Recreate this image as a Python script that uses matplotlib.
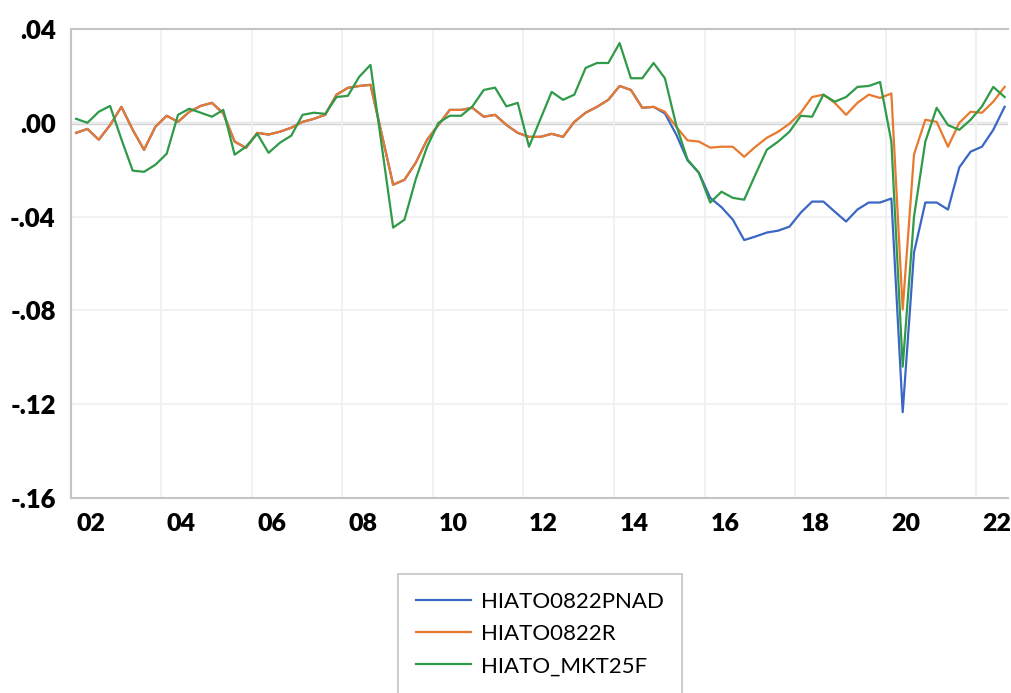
import numpy as np
import matplotlib
matplotlib.use("Agg")
import matplotlib.pyplot as plt

# quarterly series 2002Q1 .. 2022Q3 (83 obs)
hiato_pnad = [
    -0.0043, -0.0026, -0.0072, -0.0010, 0.0068, -0.0030, -0.0115, -0.0017,
    0.0030, 0.0004, 0.0047, 0.0072, 0.0085, 0.0040, -0.0080, -0.0107,
    -0.0043, -0.0050, -0.0038, -0.0021, 0.0004, 0.0017, 0.0034, 0.0120,
    0.0149, 0.0157, 0.0162, -0.0050, -0.0264, -0.0243, -0.0170, -0.0072,
    -0.0009, 0.0055, 0.0055, 0.0064, 0.0026, 0.0034, -0.0009, -0.0043,
    -0.0060, -0.0060, -0.0047, -0.0060, 0.0004, 0.0043, 0.0068, 0.0098,
    0.0157, 0.0140, 0.0064, 0.0068, 0.0040, -0.0050, -0.0160, -0.0213,
    -0.0320, -0.0360, -0.0413, -0.0500, -0.0485, -0.0468, -0.0460, -0.0443,
    -0.0383, -0.0336, -0.0336, -0.0379, -0.0421, -0.0370, -0.0340, -0.0340,
    -0.0323, -0.1234, -0.0553, -0.0340, -0.0340, -0.0370, -0.0190, -0.0123,
    -0.0102, -0.0030, 0.0068,
]
hiato_r = [
    -0.0043, -0.0026, -0.0072, -0.0010, 0.0068, -0.0030, -0.0115, -0.0017,
    0.0030, 0.0004, 0.0047, 0.0072, 0.0085, 0.0040, -0.0080, -0.0107,
    -0.0043, -0.0050, -0.0038, -0.0021, 0.0004, 0.0017, 0.0034, 0.0120,
    0.0149, 0.0157, 0.0162, -0.0050, -0.0264, -0.0243, -0.0170, -0.0072,
    -0.0009, 0.0055, 0.0055, 0.0064, 0.0026, 0.0034, -0.0009, -0.0043,
    -0.0060, -0.0060, -0.0047, -0.0060, 0.0004, 0.0043, 0.0068, 0.0098,
    0.0157, 0.0140, 0.0064, 0.0068, 0.0047, -0.0017, -0.0075, -0.0080,
    -0.0106, -0.0102, -0.0102, -0.0145, -0.0102, -0.0064, -0.0038, -0.0004,
    0.0043, 0.0110, 0.0120, 0.0085, 0.0034, 0.0085, 0.0120, 0.0106,
    0.0125, -0.0796, -0.0135, 0.0013, 0.0004, -0.0102, 0.0000, 0.0047,
    0.0043, 0.0090, 0.0153,
]
hiato_mkt = [
    0.0017, 0.0000, 0.0047, 0.0072, -0.0070, -0.0204, -0.0209, -0.0179,
    -0.0132, 0.0034, 0.0060, 0.0043, 0.0026, 0.0055, -0.0136, -0.0102,
    -0.0047, -0.0128, -0.0085, -0.0055, 0.0034, 0.0043, 0.0038, 0.0110,
    0.0115, 0.0196, 0.0247, -0.0100, -0.0447, -0.0413, -0.0240, -0.0102,
    0.0000, 0.0030, 0.0030, 0.0070, 0.0140, 0.0150, 0.0070, 0.0085,
    -0.0102, 0.0015, 0.0132, 0.0098, 0.0120, 0.0234, 0.0255, 0.0255,
    0.0340, 0.0190, 0.0190, 0.0255, 0.0190, -0.0010, -0.0157, -0.0213,
    -0.0340, -0.0294, -0.0320, -0.0328, -0.0220, -0.0115, -0.0080, -0.0038,
    0.0030, 0.0026, 0.0120, 0.0090, 0.0110, 0.0153, 0.0157, 0.0174,
    -0.0080, -0.1040, -0.0400, -0.0080, 0.0064, -0.0010, -0.0030, 0.0013,
    0.0070, 0.0153, 0.0110,
]
series_names = ["HIATO0822PNAD", "HIATO0822R", "HIATO_MKT25F"]
year_labels = ["02", "04", "06", "08", "10", "12", "14", "16", "18", "20", "22"]
y_ticks = [0.04, 0.00, -0.04, -0.08, -0.12, -0.16]
y_tick_labels = [".04", ".00", "-.04", "-.08", "-.12", "-.16"]

colors = ["#3a66c4", "#e8792e", "#2f9a48"]

plt.rcParams["font.family"] = ["Lato", "DejaVu Sans"]

fig = plt.figure(figsize=(10.12, 6.93), dpi=100)
ax = fig.add_axes([71 / 1012, 1 - 498 / 693, (1008 - 71) / 1012, (498 - 29) / 693])

t = np.arange(len(hiato_r))
for vals, name, c in zip([hiato_pnad, hiato_r, hiato_mkt], series_names, colors):
    ax.plot(t, vals, color=c, lw=1.6, label=name)

ax.set_xlim(-0.45, 82.3)
ax.set_ylim(-0.16, 0.04)

# gridlines between Q4 and Q1 of even years, labels near the middle of the year
grid_pos = [8 * k - 0.5 for k in range(1, len(year_labels))]
label_pos = [8 * k + 1.3 for k in range(len(year_labels))]
ax.set_xticks(grid_pos)
ax.set_xticklabels([])
ax.set_xticks(label_pos, minor=True)
ax.set_xticklabels(year_labels, minor=True, fontsize=18, fontweight="heavy")
ax.set_yticks(y_ticks)
ax.set_yticklabels(y_tick_labels, fontsize=18.5, fontweight="heavy")
ax.tick_params(axis="both", which="both", length=0)
ax.tick_params(axis="x", which="minor", pad=11)
ax.tick_params(axis="y", pad=11)

ax.grid(True, which="major", color="#efefef", lw=1.2)
ax.axhline(0, color="#d4d4d4", lw=2.5, zorder=1)

for side in ["left", "bottom", "top"]:
    ax.spines[side].set_color("#c4c4c4")
    ax.spines[side].set_linewidth(1.5)
ax.spines["right"].set_visible(False)

leg = fig.legend(loc="upper left", bbox_to_anchor=(398 / 1012, 1 - 574 / 693),
                 borderaxespad=0, fontsize=16, handlelength=2.5,
                 handletextpad=0.45, labelspacing=0.55, borderpad=0.8,
                 fancybox=False, edgecolor="#c4c4c4", framealpha=1)
leg.get_frame().set_linewidth(1.2)

fig.savefig("out.png", dpi=100)
